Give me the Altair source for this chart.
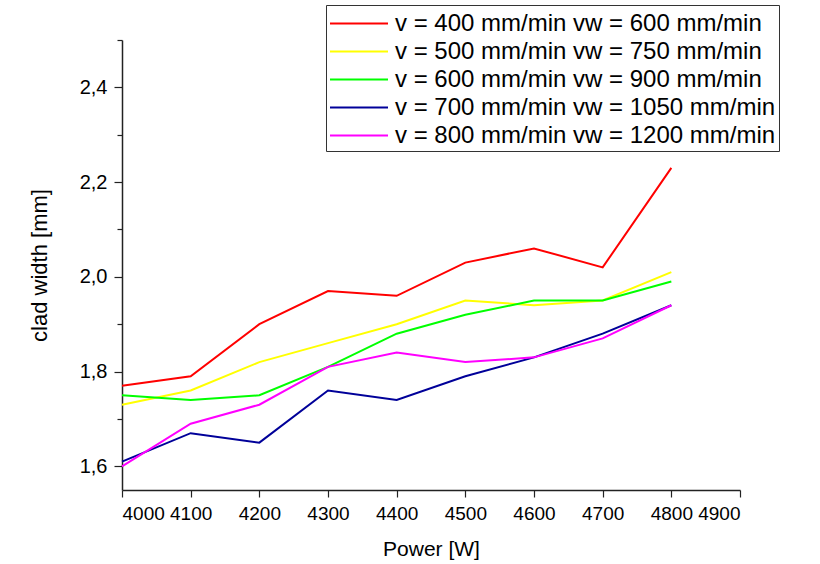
import altair as alt
import pandas as pd

power = [4000, 4100, 4200, 4300, 4400, 4500, 4600, 4700, 4800]
series_names = [
    "v = 400 mm/min vw = 600 mm/min",
    "v = 500 mm/min vw = 750 mm/min",
    "v = 600 mm/min vw = 900 mm/min",
    "v = 700 mm/min vw = 1050 mm/min",
    "v = 800 mm/min vw = 1200 mm/min",
]
s400 = [1.77, 1.79, 1.90, 1.97, 1.96, 2.03, 2.06, 2.02, 2.23]
s500 = [1.73, 1.76, 1.82, 1.86, 1.90, 1.95, 1.94, 1.95, 2.01]
s600 = [1.75, 1.74, 1.75, 1.81, 1.88, 1.92, 1.95, 1.95, 1.99]
s700 = [1.61, 1.67, 1.65, 1.76, 1.74, 1.79, 1.83, 1.88, 1.94]
s800 = [1.60, 1.69, 1.73, 1.81, 1.84, 1.82, 1.83, 1.87, 1.94]
colors = ["#ff0000", "#ffff00", "#00ff00", "#000099", "#ff00ff"]
x_ticks = [4000, 4100, 4200, 4300, 4400, 4500, 4600, 4700, 4800, 4900]
y_ticks = [1.6, 1.7, 1.8, 1.9, 2.0, 2.1, 2.2, 2.3, 2.4, 2.5]

rows = []
for name, vals in zip(series_names, [s400, s500, s600, s700, s800]):
    for p, v in zip(power, vals):
        rows.append({"Power": p, "Width": v, "Series": name})
df = pd.DataFrame(rows)

FONT = "Liberation Sans"

chart = (
    alt.Chart(df)
    .mark_line(strokeWidth=2)
    .encode(
        x=alt.X(
            "Power:Q",
            scale=alt.Scale(domain=[4000, 4900], nice=False, zero=False),
            axis=alt.Axis(
                title="Power [W]",
                values=x_ticks,
                format="d",
                grid=False,
                tickSize=7,
                labelFontSize=19,
                titleFontSize=21,
                titleFontWeight="normal",
                titlePadding=15,
                labelPadding=7,
            ),
        ),
        y=alt.Y(
            "Width:Q",
            scale=alt.Scale(domain=[1.55, 2.5], nice=False, zero=False),
            axis=alt.Axis(
                title="clad width [mm]",
                values=y_ticks,
                grid=False,
                labelExpr="round(datum.value*10) % 2 == 0 ? replace(format(datum.value, '.1f'), '.', ',') : ''",
                tickSize={"condition": {"test": "round(datum.value*10) % 2 == 0", "value": 8}, "value": 5},
                labelFontSize=20,
                titleFontSize=22,
                titleFontWeight="normal",
                titlePadding=28,
                labelPadding=7,
            ),
        ),
        color=alt.Color(
            "Series:N",
            sort=series_names,
            scale=alt.Scale(domain=series_names, range=colors),
            legend=alt.Legend(
                title=None,
                orient="none",
                legendX=204,
                legendY=-35,
                symbolType="M-1,0H3",
                symbolSize=841,
                symbolStrokeWidth=2,
                labelFontSize=24,
                labelFont=FONT,
                labelLimit=600,
                labelOffset=35,
                strokeColor="#333333",
                fillColor="white",
                padding=3,
                rowPadding=0,
            ),
        ),
    )
    .properties(
        width=618,
        height=450,
        autosize=alt.AutoSizeParams(type="none"),
        padding={"left": 122, "top": 40, "right": 80, "bottom": 74},
    )
    .configure_view(stroke=None)
    .configure_axis(
        labelFont=FONT,
        titleFont=FONT,
        labelColor="black",
        titleColor="black",
        domainColor="#222222",
        tickColor="#222222",
        domainWidth=1.5,
        tickWidth=1.2,
    )
)

chart.save("out.html", embed_options={"renderer": "svg", "actions": False})
